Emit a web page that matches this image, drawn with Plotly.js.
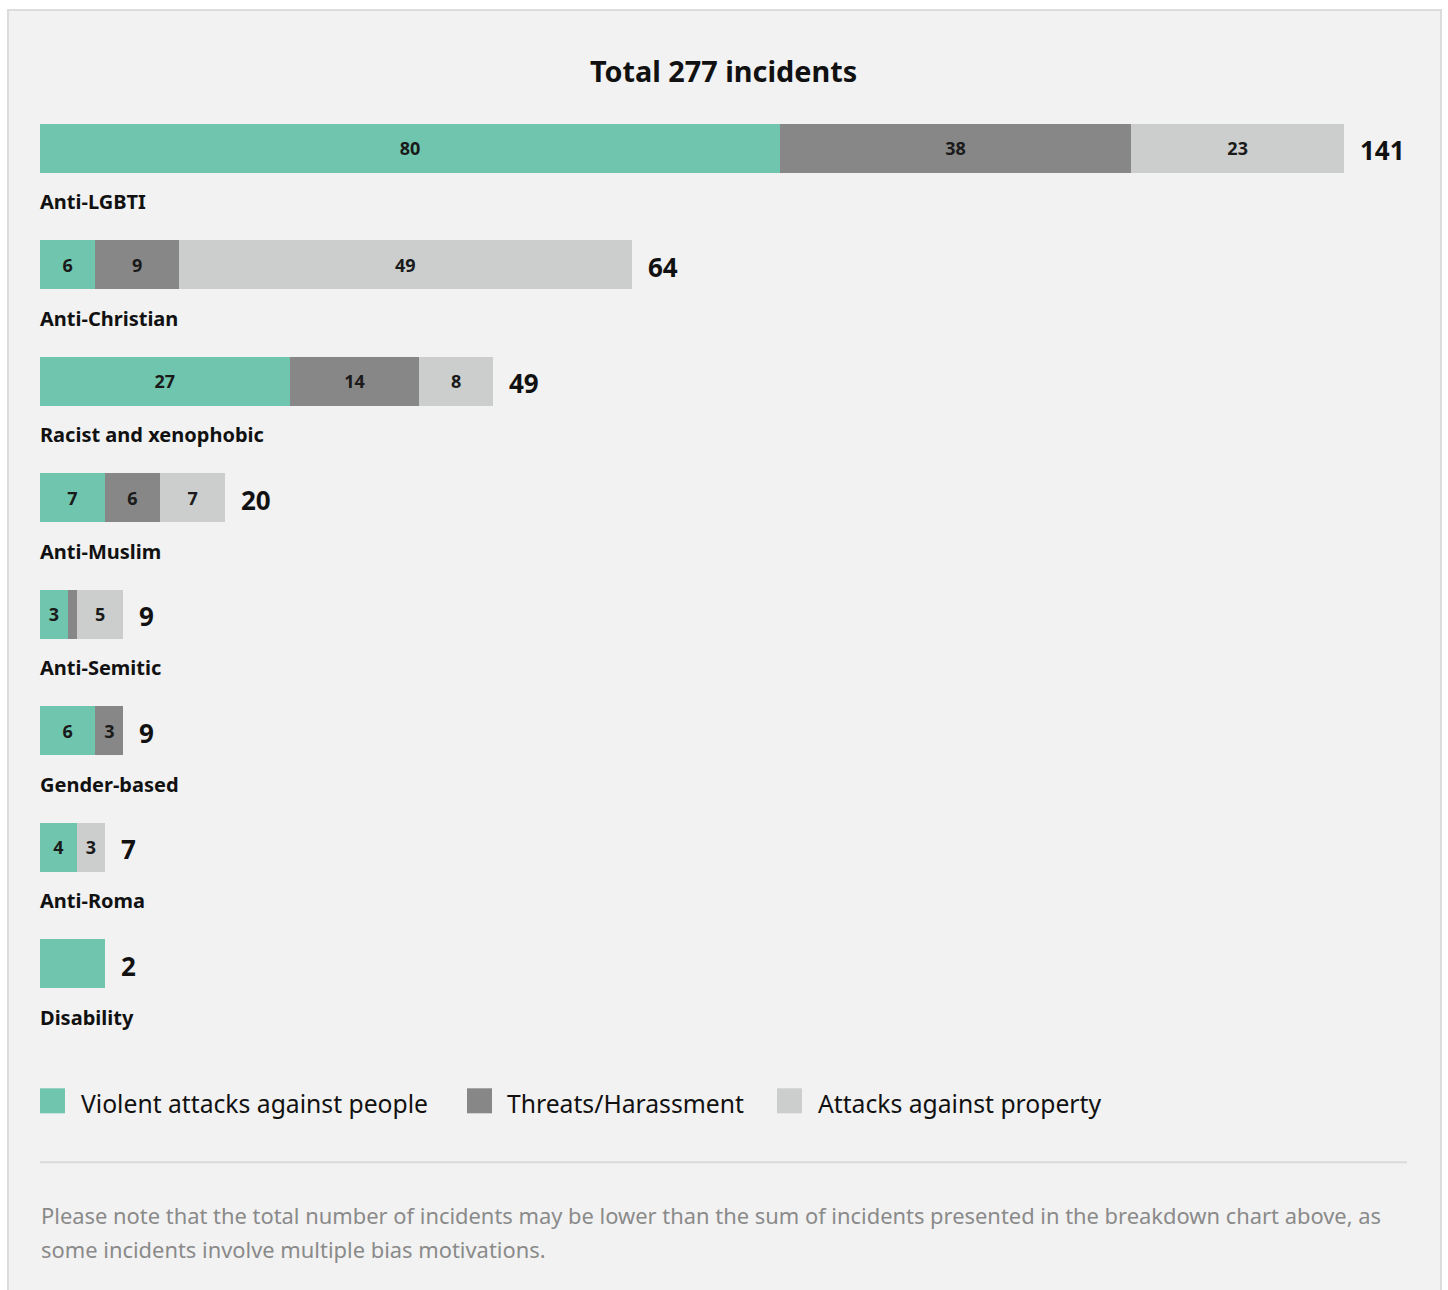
<!DOCTYPE html>
<html>
<head>
<meta charset="utf-8">
<script src="https://cdn.plot.ly/plotly-3.0.1.min.js"></script>
<style>
  html, body { margin: 0; padding: 0; background: #ffffff; }
  #card { position: absolute; left: 7px; top: 9px; width: 1435px; height: 1300px;
          background: #f2f2f2; border: 2px solid #dcdcdc; box-sizing: border-box; }
  #chart { position: absolute; left: 0; top: 0; width: 1448px; height: 1290px; }
</style>
</head>
<body>
<div id="card"></div>
<div id="chart"></div>
<script>
const categories = ["Anti-LGBTI", "Anti-Christian", "Racist and xenophobic", "Anti-Muslim",
                    "Anti-Semitic", "Gender-based", "Anti-Roma", "Disability"];
const violent  = [80, 6, 27, 7, 3, 6, 4, 7];
const threats  = [38, 9, 14, 6, 1, 3, 0, 0];
const property = [23, 49, 8, 7, 5, 0, 3, 0];
const violentLabels  = ["80", "6", "27", "7", "3", "6", "4", ""];
const threatsLabels  = ["38", "9", "14", "6", "", "3", "", ""];
const propertyLabels = ["23", "49", "8", "7", "5", "", "3", ""];
const totals = [141, 64, 49, 20, 9, 9, 7, 2];
const seriesNames = ["Violent attacks against people", "Threats/Harassment", "Attacks against property"];
const titleText = "Total 277 incidents";
const noteLines = [
  "Please note that the total number of incidents may be lower than the sum of incidents presented in the breakdown chart above, as",
  "some incidents involve multiple bias motivations."
];

const colors = ["#6fc5ad", "#878787", "#cbcecd"];
const FONT = "'Noto Sans', 'Open Sans', sans-serif";
const idx = categories.map((_, i) => i);

// pixel helpers (plot area: x 40..1407, y 90..1079.7)
const L = 40, W = 1367, T = 90, H = 989.7;
const px2x = p => (p - L) / W;
const py2y = p => (T + H - p) / H;

function barTrace(vals, labels, name, color) {
  return {
    type: "bar", orientation: "h", y: idx, x: vals, name: name,
    text: labels, textposition: "inside", insidetextanchor: "middle",
    textfont: { family: FONT, size: 18, color: "#1a1a1a", weight: "bold" },
    marker: { color: color, line: { width: 0 } },
    width: 0.42, hoverinfo: "skip", cliponaxis: false
  };
}

const data = [
  barTrace(violent, violentLabels, seriesNames[0], colors[0]),
  barTrace(threats, threatsLabels, seriesNames[1], colors[1]),
  barTrace(property, propertyLabels, seriesNames[2], colors[2])
];

const annotations = [];
idx.forEach(i => {
  annotations.push({
    x: 0, y: i + 0.46, xref: "x", yref: "y", xanchor: "left", yanchor: "middle",
    xshift: -2, text: categories[i], showarrow: false,
    font: { family: FONT, size: 20, color: "#111", weight: "bold" }
  });
  const end = violent[i] + threats[i] + property[i];
  annotations.push({
    x: end, y: i, xref: "x", yref: "y", xanchor: "left", yanchor: "middle",
    xshift: 14, yshift: -2, text: String(totals[i]), showarrow: false,
    font: { family: FONT, size: 26, color: "#111", weight: "bold" }
  });
});

// legend
const legendSquares = [40, 467, 777];
const legendTexts = [81, 507, 818];
const shapes = [];
seriesNames.forEach((n, k) => {
  shapes.push({
    type: "rect", xref: "paper", yref: "paper",
    x0: px2x(legendSquares[k]), x1: px2x(legendSquares[k] + 25),
    y0: py2y(1113), y1: py2y(1088),
    fillcolor: colors[k], line: { width: 0 }
  });
  annotations.push({
    x: px2x(legendTexts[k]), y: py2y(1103), xref: "paper", yref: "paper",
    xanchor: "left", yanchor: "middle", xshift: -2, text: n, showarrow: false,
    font: { family: FONT, size: 24.7, color: "#111" }
  });
});

// divider
shapes.push({
  type: "line", xref: "paper", yref: "paper", x0: 0, x1: 1,
  y0: py2y(1162), y1: py2y(1162), line: { color: "#dadada", width: 2 }
});

// footnote
noteLines.forEach((t, k) => {
  annotations.push({
    x: px2x(41), y: py2y(1215 + 34 * k), xref: "paper", yref: "paper",
    xanchor: "left", yanchor: "middle", xshift: -2, text: t, showarrow: false,
    font: { family: FONT, size: 21.9, color: "#8a8a8a" }
  });
});

const layout = {
  width: 1448, height: 1290,
  paper_bgcolor: "rgba(0,0,0,0)", plot_bgcolor: "rgba(0,0,0,0)",
  margin: { l: L, r: 1448 - L - W, t: T, b: 1290 - T - H },
  barmode: "stack", showlegend: false,
  title: {
    text: titleText, x: 0.5, xref: "paper", xanchor: "center",
    y: 1 - 72 / 1290, yref: "container", yanchor: "middle",
    font: { family: FONT, size: 28.8, color: "#111", weight: "bold" }
  },
  xaxis: { range: [0, W / (1304 / 141)], visible: false, fixedrange: true },
  yaxis: { range: [8.0, -0.5], visible: false, fixedrange: true },
  annotations: annotations, shapes: shapes,
  font: { family: FONT }
};

Plotly.newPlot("chart", data, layout, { displayModeBar: false, staticPlot: true });
</script>
</body>
</html>
